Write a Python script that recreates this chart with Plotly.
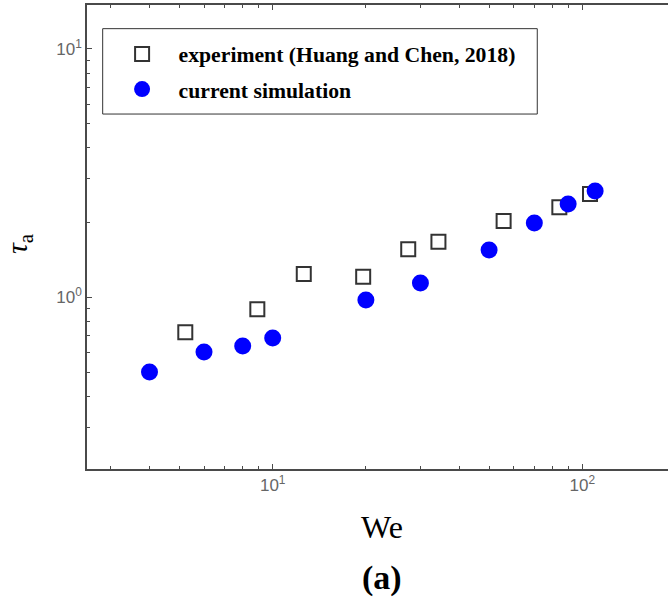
import plotly.graph_objects as go

# Experimental data (Huang and Chen, 2018)
exp_we = [5.22, 8.92, 12.6, 19.6, 27.4, 34.3, 55.7, 84.3, 105.9]
exp_tau = [0.723, 0.895, 1.241, 1.21, 1.561, 1.675, 2.03, 2.304, 2.607]

# Current simulation
sim_we = [4, 6, 8, 10, 20, 30, 50, 70, 90, 110]
sim_tau = [0.50, 0.602, 0.637, 0.686, 0.975, 1.142, 1.55, 1.99, 2.376, 2.68]

x_major = [10, 100]
x_major_text = ["10<sup>1</sup>", "10<sup>2</sup>"]
x_minor = [3, 4, 5, 6, 7, 8, 9, 20, 30, 40, 50, 60, 70, 80, 90]
y_major = [1, 10]
y_major_text = ["10<sup>0</sup>", "10<sup>1</sup>"]
y_minor = [0.3, 0.4, 0.5, 0.6, 0.7, 0.8, 0.9, 2, 3, 4, 5, 6, 7, 8, 9]

AX = "#4a4a4a"
TICKFONT = dict(family="Liberation Sans, Arial", size=17, color="#666666")
SERIF = "Liberation Serif, Times New Roman"

fig = go.Figure()
fig.add_trace(go.Scatter(
    x=exp_we, y=exp_tau, mode="markers",
    name="experiment (Huang and Chen, 2018)", legendgroup="a",
    marker=dict(symbol="square-open", size=14, color="#333333",
                line=dict(width=2, color="#333333")),
))
fig.add_trace(go.Scatter(
    x=sim_we, y=sim_tau, mode="markers",
    name="current simulation", legendgroup="b",
    marker=dict(symbol="circle", size=17, color="#0000ff"),
))

fig.update_layout(
    width=668, height=603,
    margin=dict(l=87, r=0, t=5, b=134),
    paper_bgcolor="white", plot_bgcolor="white",
    showlegend=True,
    legend=dict(
        x=0.032, y=0.939, xanchor="left", yanchor="top",
        bgcolor="rgba(0,0,0,0)", borderwidth=0,
        font=dict(family=SERIF, size=21.7, color="black", weight="bold"),
        itemwidth=63, tracegroupgap=4,
    ),
    xaxis=dict(
        type="log", range=[0.4002, 2.2768],
        showgrid=False, zeroline=False,
        showline=True, linecolor=AX, linewidth=1.5, mirror="ticks",
        ticks="inside", ticklen=5, tickcolor=AX, tickwidth=1.2,
        tickmode="array", tickvals=x_major, ticktext=x_major_text,
        tickfont=TICKFONT,
        minor=dict(ticks="inside", ticklen=3, tickcolor=AX, tickwidth=1,
                   tickmode="array", tickvals=x_minor, showgrid=False),
    ),
    yaxis=dict(
        type="log", range=[-0.6915, 1.177],
        showgrid=False, zeroline=False,
        showline=True, linecolor=AX, linewidth=1.5, mirror=False,
        ticks="inside", ticklen=5, tickcolor=AX, tickwidth=1.2,
        tickmode="array", tickvals=y_major, ticktext=y_major_text,
        tickfont=TICKFONT,
        minor=dict(ticks="inside", ticklen=3, tickcolor=AX, tickwidth=1,
                   tickmode="array", tickvals=y_minor, showgrid=False),
    ),
    shapes=[dict(type="rect", xref="paper", yref="paper",
                 x0=0.027, x1=0.775, y0=0.765, y1=0.949,
                 line=dict(color="#333333", width=1))],
    annotations=[
        dict(text="We", xref="paper", yref="paper", x=0.5086, y=-0.125,
             showarrow=False, xanchor="center", yanchor="middle",
             font=dict(family=SERIF, size=32, color="black")),
        dict(text="<b>(a)</b>", xref="paper", yref="paper", x=0.507, y=-0.235,
             showarrow=False, xanchor="center", yanchor="middle",
             font=dict(family=SERIF, size=34, color="black")),
        dict(text="<i>τ</i><sub>a</sub>", xref="paper", yref="paper",
             x=-0.117, y=0.485, textangle=-90,
             showarrow=False, xanchor="center", yanchor="middle",
             font=dict(family=SERIF, size=30, color="black")),
    ],
)

fig.write_html("out.html")
